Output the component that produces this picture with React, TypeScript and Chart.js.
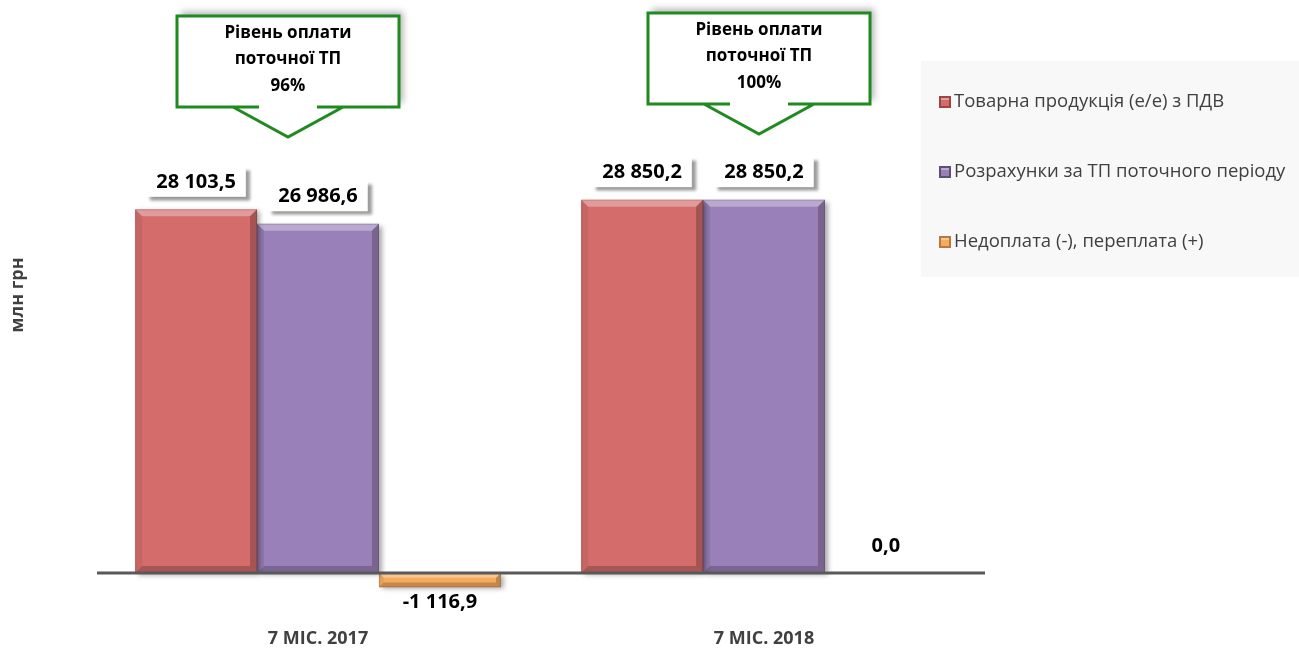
import React, { useEffect, useRef } from 'react';
import { Chart, registerables } from 'chart.js';

Chart.register(...registerables);

// ---- data ----
const categories = ['7 МІС. 2017', '7 МІС. 2018'];
const seriesNames = [
  'Товарна продукція (е/е) з ПДВ',
  'Розрахунки за ТП поточного періоду',
  'Недоплата (-), переплата (+)',
];
const commodityValues = [28103.5, 28850.2];
const paymentValues = [26986.6, 28850.2];
const balanceValues = [-1116.9, 0.0];
const calloutLines = ['Рівень оплати', 'поточної ТП'];
const paymentLevels = ['96%', '100%'];
const yAxisTitle = 'млн грн';

// ---- styles ----
const FONT = "'Open Sans', 'DejaVu Sans', sans-serif";
const seriesColors = ['#D36C6B', '#9A80B8', '#F6AA5E'];
const seriesEdge = ['#9E4645', '#5E4E74', '#B67A3E'];
const labelBoxes = [true, true, false];
const calloutLayout = [
  { dx: -30, top: 16 },
  { dx: -5, top: 13 },
];
const Y_MIN = -4057;
const Y_MAX = 43509;

function fmt(v: number): string {
  const neg = v < 0;
  const s = Math.abs(v).toFixed(1);
  const [intPart, dec] = s.split('.');
  const intS = intPart.replace(/\B(?=(\d{3})+(?!\d))/g, ' ');
  return (neg ? '-' : '') + intS + ',' + dec;
}

const barDecor = {
  id: 'barDecor',
  beforeDatasetsDraw(chart: any) {
    const ctx = chart.ctx;
    ctx.save();
    ctx.shadowColor = 'rgba(0,0,0,0.35)';
    ctx.shadowBlur = 5;
    ctx.shadowOffsetX = 3;
    ctx.shadowOffsetY = 2;
  },
  afterDatasetsDraw(chart: any) {
    const ctx = chart.ctx;
    ctx.restore();
    const area = chart.chartArea;
    // bevels
    chart.data.datasets.forEach((_ds: any, i: number) => {
      const meta = chart.getDatasetMeta(i);
      meta.data.forEach((el: any) => {
        const l = el.x - el.width / 2;
        const r = el.x + el.width / 2;
        const t = Math.min(el.y, el.base);
        const b = Math.max(el.y, el.base);
        const h = b - t;
        if (h < 1) return;
        const bv = Math.min(7, h / 3);
        const poly = (pts: number[][], fill: string) => {
          ctx.beginPath();
          ctx.moveTo(pts[0][0], pts[0][1]);
          for (let k = 1; k < pts.length; k++) ctx.lineTo(pts[k][0], pts[k][1]);
          ctx.closePath();
          ctx.fillStyle = fill;
          ctx.fill();
        };
        poly([[l, t], [r, t], [r - bv, t + bv], [l + bv, t + bv]], 'rgba(255,255,255,0.32)');
        poly([[l, t], [l + bv, t + bv], [l + bv, b - bv], [l, b]], 'rgba(0,0,0,0.06)');
        poly([[r, t], [r, b], [r - bv, b - bv], [r - bv, t + bv]], 'rgba(0,0,0,0.22)');
        poly([[l, b], [r, b], [r - bv, b - bv], [l + bv, b - bv]], 'rgba(0,0,0,0.2)');
        ctx.strokeStyle = 'rgba(0,0,0,0.15)';
        ctx.lineWidth = 1;
        ctx.strokeRect(l + 0.5, t + 0.5, r - l - 1, h - 1);
      });
    });
    // zero line
    const y0 = chart.scales.y.getPixelForValue(0);
    ctx.save();
    ctx.strokeStyle = '#595959';
    ctx.lineWidth = 3;
    ctx.beginPath();
    ctx.moveTo(area.left + 2, y0);
    ctx.lineTo(area.right - 2, y0);
    ctx.stroke();
    ctx.restore();
    // value labels
    ctx.save();
    ctx.font = `bold 20px ${FONT}`;
    ctx.textAlign = 'center';
    ctx.textBaseline = 'middle';
    chart.data.datasets.forEach((ds: any, i: number) => {
      const meta = chart.getDatasetMeta(i);
      meta.data.forEach((el: any, j: number) => {
        const v = ds.data[j];
        const txt = fmt(v);
        const ty = v < 0 ? el.y + 15 : el.y - 27;
        if (labelBoxes[i]) {
          const w = ctx.measureText(txt).width + 20;
          const hgt = 31;
          ctx.save();
          ctx.shadowColor = 'rgba(0,0,0,0.4)';
          ctx.shadowBlur = 3;
          ctx.shadowOffsetX = 4;
          ctx.shadowOffsetY = 4;
          ctx.fillStyle = '#FFFFFF';
          ctx.fillRect(el.x - w / 2, ty - hgt / 2 - 1, w, hgt);
          ctx.restore();
        }
        ctx.fillStyle = '#000000';
        ctx.fillText(txt, el.x, ty);
      });
    });
    ctx.restore();
  },
  afterDraw(chart: any) {
    const ctx = chart.ctx;
    const xs = chart.scales.x;
    // y axis title
    ctx.save();
    ctx.translate(18, 295);
    ctx.rotate(-Math.PI / 2);
    ctx.font = `bold 18px ${FONT}`;
    ctx.fillStyle = '#404040';
    ctx.textAlign = 'center';
    ctx.textBaseline = 'middle';
    ctx.fillText(yAxisTitle, 0, 0);
    ctx.restore();
    // callouts
    categories.forEach((_c, j) => {
      const lay = calloutLayout[j];
      const cx = xs.getPixelForValue(j) + lay.dx;
      const w = 222;
      const h = 91;
      const l = cx - w / 2;
      const r = cx + w / 2;
      const t = lay.top;
      const b = t + h;
      const baseHalf = 55;
      const gapHalf = 29;
      const tipY = b + 30;
      ctx.save();
      ctx.shadowColor = 'rgba(0,0,0,0.3)';
      ctx.shadowBlur = 7;
      ctx.shadowOffsetX = 4;
      ctx.shadowOffsetY = -4;
      ctx.fillStyle = '#FFFFFF';
      ctx.beginPath();
      ctx.moveTo(l, t);
      ctx.lineTo(r, t);
      ctx.lineTo(r, b);
      ctx.lineTo(cx + baseHalf, b);
      ctx.lineTo(cx, tipY);
      ctx.lineTo(cx - baseHalf, b);
      ctx.lineTo(l, b);
      ctx.closePath();
      ctx.fill();
      ctx.restore();
      ctx.save();
      ctx.strokeStyle = '#1F8A1F';
      ctx.lineWidth = 3;
      ctx.lineJoin = 'miter';
      ctx.beginPath();
      ctx.moveTo(cx - gapHalf, b);
      ctx.lineTo(l, b);
      ctx.lineTo(l, t);
      ctx.lineTo(r, t);
      ctx.lineTo(r, b);
      ctx.lineTo(cx + gapHalf, b);
      ctx.moveTo(cx - baseHalf, b);
      ctx.lineTo(cx, tipY);
      ctx.lineTo(cx + baseHalf, b);
      ctx.stroke();
      ctx.fillStyle = '#000000';
      ctx.font = `bold 17px ${FONT}`;
      ctx.textAlign = 'center';
      ctx.textBaseline = 'middle';
      const lines = [...calloutLines, paymentLevels[j]];
      lines.forEach((ln, k) => {
        ctx.fillText(ln, cx, t + 17 + k * 26.5);
      });
      ctx.restore();
    });
    // legend
    ctx.save();
    ctx.fillStyle = '#F8F8F8';
    ctx.fillRect(921, 61, 378, 216);
    ctx.font = `18.5px ${FONT}`;
    ctx.textAlign = 'left';
    ctx.textBaseline = 'middle';
    chart.data.datasets.forEach((ds: any, i: number) => {
      const yy = 102 + i * 70;
      const mx = 939;
      const ms = 12;
      ctx.fillStyle = seriesEdge[i];
      ctx.fillRect(mx, yy - ms / 2, ms, ms);
      ctx.fillStyle = seriesColors[i];
      ctx.fillRect(mx + 2, yy - ms / 2 + 2, ms - 4, ms - 4);
      ctx.fillStyle = 'rgba(255,255,255,0.35)';
      ctx.fillRect(mx + 2, yy - ms / 2 + 2, ms - 4, 2);
      ctx.fillStyle = '#404040';
      ctx.fillText(ds.label, mx + ms + 3, yy);
    });
    ctx.restore();
  },
};

export default function App() {
  const ref = useRef<HTMLCanvasElement | null>(null);
  useEffect(() => {
    document.body.style.margin = '0';
    if (!ref.current) return;
    const chart = new Chart(ref.current, {
      type: 'bar',
      data: {
        labels: categories,
        datasets: [commodityValues, paymentValues, balanceValues].map((d, i) => ({
          label: seriesNames[i],
          data: d,
          backgroundColor: seriesColors[i],
          borderWidth: 0,
          categoryPercentage: 0.82,
          barPercentage: 1,
        })),
      },
      options: {
        responsive: false,
        animation: false,
        layout: { padding: { left: 95, right: 312, top: 10, bottom: -2 } },
        plugins: { legend: { display: false }, tooltip: { enabled: false } },
        scales: {
          x: {
            grid: { display: false, drawTicks: false },
            border: { display: false },
            ticks: {
              color: '#404040',
              padding: 3,
              font: { family: FONT, size: 18, weight: 'bold' },
            },
          },
          y: {
            display: false,
            min: Y_MIN,
            max: Y_MAX,
          },
        },
      } as any,
      plugins: [barDecor],
    });
    return () => chart.destroy();
  }, []);
  return (
    <div style={{ width: 1299, height: 651 }}>
      <canvas ref={ref} width={1299} height={651} style={{ display: 'block' }} />
    </div>
  );
}
